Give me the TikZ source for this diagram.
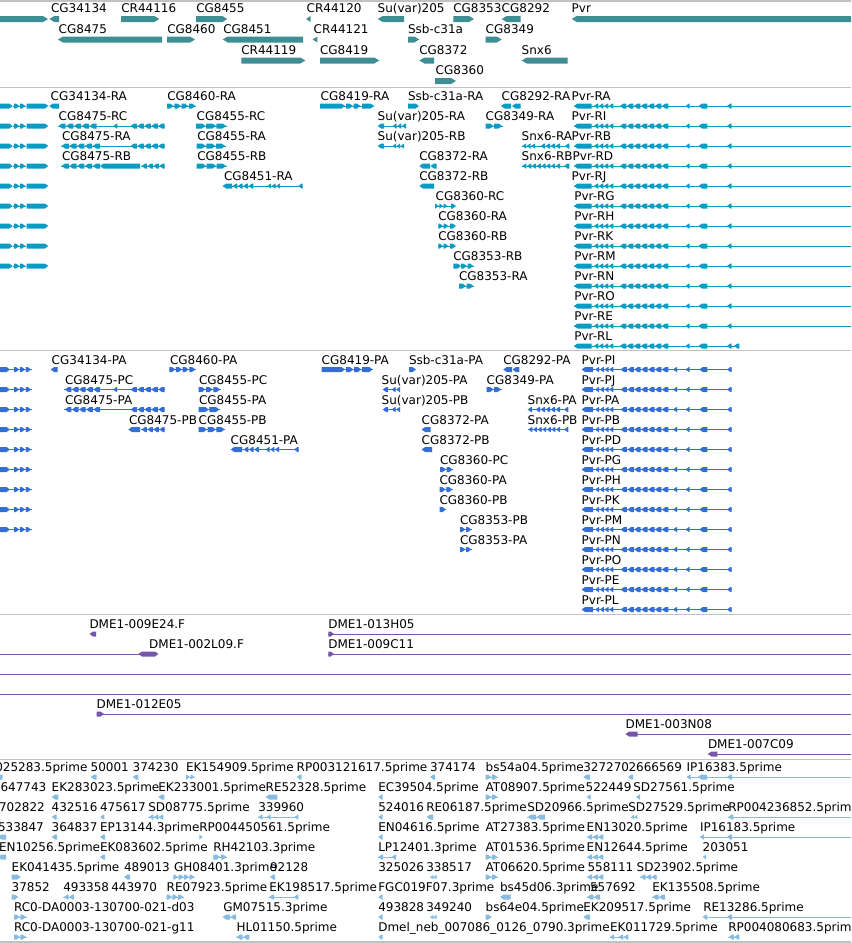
\documentclass[tikz,border=0pt]{standalone}
\usepackage{fontspec}
\setmainfont{DejaVu Sans}
\definecolor{gcol}{HTML}{3F8E94}
\definecolor{tcol}{HTML}{0A9CC4}
\definecolor{pcol}{HTML}{356FD3}
\definecolor{ccol}{HTML}{7656AA}
\definecolor{ecol}{HTML}{88BBE0}
\definecolor{sepcol}{HTML}{C2C2C2}
\newcounter{lbc}
\tikzset{
  lbl/.style={anchor=base west, inner sep=0pt, outer sep=0pt, font=\fontsize{9}{11}\selectfont, text=black},
  lble/.style={lbl, anchor=base east},
  sepline/.style={draw=sepcol, line width=0.9pt},
  intr/.style={draw=cur, line width=0.75pt}
}
\newcommand\lab[3]{\stepcounter{lbc}\node[lbl] (t\arabic{lbc}) at (#1,#2-\bo) {#3};}
\newcommand\labe[3]{\stepcounter{lbc}\node[lble] (t\arabic{lbc}) at (#1,#2-\bo) {#3};}
\newcommand\gR[3]{\pgfmathsetmacro\gtx{max(#1,#2-\tl)}\fill[cur] (#1,#3-\hh) -- (\gtx,#3-\hh) -- (#2,#3) -- (\gtx,#3+\hh) -- (#1,#3+\hh) -- cycle;}
\newcommand\gL[3]{\pgfmathsetmacro\gtx{min(#2,#1+\tl)}\fill[cur] (#2,#3-\hh) -- (\gtx,#3-\hh) -- (#1,#3) -- (\gtx,#3+\hh) -- (#2,#3+\hh) -- cycle;}
\newcommand\gI[3]{\draw[intr] (#1,#3) -- (#2,#3);}
\newcommand\gRR[4]{\gI{#1}{#2}{#4}\pgfmathsetmacro\gw{(#2-#1)/#3}\foreach \k in {1,...,#3}{\pgfmathsetmacro\ga{#1+(\k-1)*\gw}\pgfmathsetmacro\gb{\ga+\gw-0.6}\gR{\ga}{\gb}{#4}}}
\newcommand\gLL[4]{\gI{#1}{#2}{#4}\pgfmathsetmacro\gw{(#2-#1)/#3}\foreach \k in {1,...,#3}{\pgfmathsetmacro\ga{#1+(\k-1)*\gw+0.6}\pgfmathsetmacro\gb{#1+\k*\gw}\gL{\ga}{\gb}{#4}}}
\newcommand\pvrT[3]{\gI{#3}{#2}{#1}\gL{#3}{591.7}{#1}\gLL{593.3}{613.3}{4}{#1}\gLL{619.3}{668.3}{7}{#1}\gL{685.5}{689.5}{#1}\gL{698.5}{707.3}{#1}\gL{727}{731.7}{#1}}
\newcommand\pvrP[1]{\gI{581.7}{731.7}{#1}\gL{581.7}{593}{#1}\gLL{594.5}{613.3}{4}{#1}\gLL{620}{668.3}{7}{#1}\gL{673}{677}{#1}\gL{685.5}{689.5}{#1}\gL{699.3}{707.3}{#1}\gL{727}{731.7}{#1}}
\begin{document}
\begin{tikzpicture}[x=0.75pt,y=-0.75pt]
\useasboundingbox (0,0) rectangle (851,943);
\fill[white] (0,0) rectangle (851,943);
\clip (0,0) rectangle (851,943);
\foreach \yy in {1,87.5,350.5,614.5,759.5,942}{\draw[sepline] (0,\yy) -- (851,\yy);}
% ---------------- genes
\colorlet{cur}{gcol}\def\hh{3}\def\tl{5}\def\bo{6.5}
\gR{-2}{48}{19}
\gL{49.3}{59}{19}\lab{51}{19}{CG34134}
\gR{121}{159.3}{19}\lab{121.3}{19}{CR44116}
\gR{196}{227.3}{19}\lab{196.3}{19}{CG8455}
\gL{306}{310.7}{19}\lab{306.7}{19}{CR44120}
\gL{377.7}{404}{19}\lab{377.7}{19}{Su(var)205}
\gR{453.3}{474}{19}\lab{453.3}{19}{CG8353}
\gL{501.7}{520.7}{19}\lab{501.7}{19}{CG8292}
\gL{571.7}{855}{19}\lab{571.7}{19}{Pvr}
\gL{58}{162}{39.5}\lab{58.7}{39.5}{CG8475}
\gR{167}{195}{39.5}\lab{167.3}{39.5}{CG8460}
\gL{222.7}{303}{39.5}\lab{223.3}{39.5}{CG8451}
\gL{312.7}{317.3}{39.5}\lab{313.7}{39.5}{CR44121}
\gR{408}{419.3}{39.5}\lab{408}{39.5}{Ssb-c31a}
\gR{485.7}{501.7}{39.5}\lab{485.7}{39.5}{CG8349}
\gR{241.3}{305.3}{60.5}\lab{241.3}{60.5}{CR44119}
\gR{320}{379.3}{60.5}\lab{320}{60.5}{CG8419}
\gL{419.3}{434}{60.5}\lab{419.3}{60.5}{CG8372}
\gL{521.7}{567.7}{60.5}\lab{521.7}{60.5}{Snx6}
\gR{435}{456}{81}\lab{435.7}{81}{CG8360}
% ---------------- transcripts
\colorlet{cur}{tcol}\def\hh{2.5}\def\tl{3.5}\def\bo{5.2}
\foreach \yy in {106,126,...,266}{\gR{-2}{12.7}{\yy}\gI{12.7}{14}{\yy}\gRR{14}{26}{2}{\yy}\gR{26.7}{48.3}{\yy}}
\gL{49.3}{59}{106}\lab{50.7}{106}{CG34134-RA}
\gRR{167}{196}{4}{106}\lab{167.3}{106}{CG8460-RA}
\gI{320}{374}{106}\gR{320}{345}{106}\gRR{346}{361}{2}{106}\gR{362}{374}{106}\lab{320.7}{106}{CG8419-RA}
\gR{408}{419}{106}\lab{408}{106}{Ssb-c31a-RA}
\gL{501}{511}{106}\gL{512}{520.7}{106}\lab{501.7}{106}{CG8292-RA}
\gLL{58}{96.7}{5}{126}\gI{96.7}{130}{126}\gL{113.3}{117.3}{126}\gLL{130}{164.7}{5}{126}\lab{58.7}{126}{CG8475-RC}
\gRR{196}{226.7}{3}{126}\lab{196.7}{126}{CG8455-RC}
\gL{377.7}{384}{126}\gI{384}{392}{126}\gLL{392}{406}{3}{126}\lab{377.7}{126}{Su(var)205-RA}
\gRR{485.7}{502.7}{2}{126}\lab{485.7}{126}{CG8349-RA}
\gLL{61}{100}{5}{146}\gI{100}{130}{146}\gLL{130}{164.7}{5}{146}\lab{62}{146}{CG8475-RA}
\gRR{196.7}{225.7}{3}{146}\lab{197.3}{146}{CG8455-RA}
\gL{377.7}{384}{146}\gI{384}{392}{146}\gLL{392}{404}{3}{146}\lab{377.7}{146}{Su(var)205-RB}
\gI{521.7}{569.3}{146}\gLL{521.7}{535}{3}{146}\gLL{540}{560}{4}{146}\gL{565}{569.3}{146}\lab{521.7}{146}{Snx6-RA}
\gLL{61}{100}{5}{166}\gL{100}{140}{166}\gLL{141}{164.7}{4}{166}\lab{62}{166}{CG8475-RB}
\gRR{196.7}{226.7}{3}{166}\lab{197.3}{166}{CG8455-RB}
\gL{419.3}{430}{166}\gL{430.5}{436.7}{166}\lab{419.3}{166}{CG8372-RA}
\gI{521.7}{569.3}{166}\gLL{521.7}{560}{8}{166}\gL{564}{569.3}{166}\lab{521.7}{166}{Snx6-RB}
\gI{222.7}{302.7}{186}\gL{222.7}{232}{186}\gLL{232}{253.3}{4}{186}\gLL{266.7}{280}{3}{186}\gL{298.3}{302.7}{186}\lab{224}{186}{CG8451-RA}
\gL{419.3}{434}{186}\lab{419.3}{186}{CG8372-RB}
\gRR{435}{448}{3}{206}\gI{448}{451}{206}\gR{451}{456}{206}\lab{435.7}{206}{CG8360-RC}
\gRR{438.3}{449}{2}{226}\gI{449}{450}{226}\gR{450}{456}{226}\lab{438.3}{226}{CG8360-RA}
\gRR{438.3}{449}{2}{246}\gI{449}{450}{246}\gR{450}{456}{246}\lab{438.3}{246}{CG8360-RB}
\gR{453.3}{461}{266}\gRR{461}{474}{2}{266}\lab{453.3}{266}{CG8353-RB}
\gRR{459}{474}{2}{286}\lab{459}{286}{CG8353-RA}
\foreach \yy/\nm/\lx in {106/RA/571.7,126/RI/571.7,146/RB/571.7,166/RD/572.7,186/RJ/571.7,206/RG/574.3,226/RH/574.3,246/RK/574.3,266/RM/574.3,286/RN/574.3,306/RO/574.3,326/RE/574.3}{\lab{\lx}{\yy}{Pvr-\nm}\pvrT{\yy}{855}{574}}
\lab{574.3}{346}{Pvr-RL}\pvrT{346}{739.3}{574}\gL{734}{739.3}{346}
% ---------------- proteins
\colorlet{cur}{pcol}
\foreach \yy in {369.5,389.5,...,529.5}{\gR{-2}{10}{\yy}\gI{10}{14}{\yy}\gRR{14}{31.7}{3}{\yy}}
\gL{50.7}{57.7}{369.5}\lab{51.7}{369.5}{CG34134-PA}
\gRR{169.3}{196}{4}{369.5}\lab{170}{369.5}{CG8460-PA}
\gI{321.7}{372.7}{369.5}\gR{321.7}{345}{369.5}\gRR{346}{362}{2}{369.5}\gR{362}{372.7}{369.5}\lab{321.7}{369.5}{CG8419-PA}
\gR{409}{416}{369.5}\lab{409}{369.5}{Ssb-c31a-PA}
\gL{503.3}{512}{369.5}\gL{512.5}{519.3}{369.5}\lab{503.3}{369.5}{CG8292-PA}
\gLL{64.3}{100}{5}{389.5}\gI{100}{130}{389.5}\gL{113}{117}{389.5}\gLL{130}{164.7}{5}{389.5}\lab{65}{389.5}{CG8475-PC}
\gRR{198.7}{220.7}{3}{389.5}\lab{199}{389.5}{CG8455-PC}
\gL{382.7}{388}{389.5}\gI{388}{391}{389.5}\gLL{391}{400}{2}{389.5}\lab{381.7}{389.5}{Su(var)205-PA}
\gRR{486.7}{501.7}{2}{389.5}\lab{486.7}{389.5}{CG8349-PA}
\gLL{64.3}{100}{5}{409.5}\gI{100}{130}{409.5}\gLL{130}{164.7}{5}{409.5}\lab{65}{409.5}{CG8475-PA}
\gRR{198.7}{220}{2}{409.5}\lab{199}{409.5}{CG8455-PA}
\gL{382.7}{388}{409.5}\gI{388}{391}{409.5}\gLL{391}{400}{2}{409.5}\lab{381.7}{409.5}{Su(var)205-PB}
\gI{527.7}{568.3}{409.5}\gL{527.7}{532}{409.5}\gLL{535}{560}{5}{409.5}\gL{564}{568.3}{409.5}\lab{527.7}{409.5}{Snx6-PA}
\gL{128.3}{140}{429.5}\gLL{141}{164.7}{4}{429.5}\lab{129}{429.5}{CG8475-PB}
\gRR{198.7}{225.3}{3}{429.5}\lab{198.7}{429.5}{CG8455-PB}
\gL{421.7}{430.7}{429.5}\lab{421.7}{429.5}{CG8372-PA}
\gI{527.7}{568.3}{429.5}\gLL{527.7}{560}{7}{429.5}\gL{564}{568.3}{429.5}\lab{527.7}{429.5}{Snx6-PB}
\gI{230.7}{298.7}{449.5}\gL{230.7}{242}{449.5}\gLL{243}{259}{3}{449.5}\gLL{265}{279}{3}{449.5}\gL{294}{298.7}{449.5}\lab{230.7}{449.5}{CG8451-PA}
\gL{421.7}{432}{449.5}\lab{421.7}{449.5}{CG8372-PB}
\gRR{440}{453.3}{2}{469.5}\lab{440}{469.5}{CG8360-PC}
\gRR{439.5}{453}{2}{489.5}\lab{439.5}{489.5}{CG8360-PA}
\gR{439.5}{446}{509.5}\lab{439.5}{509.5}{CG8360-PB}
\gRR{460}{472}{2}{529.5}\lab{460}{529.5}{CG8353-PB}
\gRR{460}{472}{2}{549.5}\lab{460}{549.5}{CG8353-PA}
\foreach \yy/\nm in {369.5/PI,389.5/PJ,409.5/PA,429.5/PB,449.5/PD,469.5/PG,489.5/PH,509.5/PK,529.5/PM,549.5/PN,569.5/PO,589.5/PE,609.5/PL}{\lab{581.7}{\yy}{Pvr-\nm}\pvrP{\yy}}
% ---------------- clones
\colorlet{cur}{ccol}
\gL{89.5}{96}{634}\lab{89.5}{634}{DME1-009E24.F}
\gI{328.3}{855}{634}\gR{328.3}{334}{634}\lab{328.3}{634}{DME1-013H05}
\gI{-2}{140}{654}\fill[cur] (138.4,654) -- (142,651.5) -- (155,651.5) -- (158.4,654) -- (155,656.5) -- (142,656.5) -- cycle;\lab{149.2}{654}{DME1-002L09.F}
\gI{328.3}{855}{654}\gR{328.3}{334}{654}\lab{328.3}{654}{DME1-009C11}
\gI{-2}{855}{674}
\gI{-2}{855}{694}
\gI{96.6}{855}{714}\gR{96.6}{104}{714}\lab{96.6}{714}{DME1-012E05}
\gI{625.6}{855}{734}\gL{625.6}{637.5}{734}\lab{625.6}{734}{DME1-003N08}
\gI{708}{855}{754}\gL{708}{717.3}{754}\lab{708}{754}{DME1-007C09}
% ---------------- ESTs
\colorlet{cur}{ecol}
% row 777
\gL{-4}{2.7}{777}\labe{87.5}{777}{025283.5prime}
\gL{90.7}{96.7}{777}\lab{90.7}{777}{50001}
\gL{132.7}{138.3}{777}\lab{132.7}{777}{374230}
\gRR{186}{195}{2}{777}\lab{186}{777}{EK154909.5prime}
\gL{296.7}{301.7}{777}\lab{296.7}{777}{RP003121617.5prime}
\gL{430}{435}{777}\lab{430}{777}{374174}
\gRR{485.7}{498}{2}{777}\lab{485.7}{777}{bs54a04.5prime}
\gL{583.3}{590}{777}\lab{583.3}{777}{327270}
\gL{628}{633}{777}\lab{628.5}{777}{2666569}
\gI{686.7}{855}{777}\gL{686.7}{690.5}{777}\gL{698}{707}{777}\gL{727}{732}{777}\lab{686.7}{777}{IP16383.5prime}
% row 797
\lab{0.5}{797}{647743}
\gL{51.7}{58.3}{797}\lab{51.7}{797}{EK283023.5prime}
\gL{158.3}{164.3}{797}\lab{158.3}{797}{EK233001.5prime}
\gL{265.7}{277.3}{797}\lab{265.7}{797}{RE52328.5prime}
\gL{378.3}{382.7}{797}\lab{378.3}{797}{EC39504.5prime}
\gRR{485.7}{498}{2}{797}\lab{485.7}{797}{AT08907.5prime}
\gL{586.7}{590.7}{797}\lab{585.7}{797}{522449}
\gL{636}{640}{797}\lab{633.3}{797}{SD27561.5prime}
% row 817
\lab{-1}{817}{702822}
\gL{51.7}{56.7}{817}\lab{51.7}{817}{432516}
\gL{100}{104.3}{817}\lab{100}{817}{475617}
\gLL{148.3}{163.3}{3}{817}\lab{148.3}{817}{SD08775.5prime}
\gI{258.3}{298.3}{817}\gL{258.3}{262.3}{817}\gL{266.7}{270.7}{817}\gL{294.5}{298.3}{817}\lab{258.3}{817}{339960}
\gL{378.3}{382.7}{817}\lab{378.3}{817}{524016}
\gL{426.7}{433.3}{817}\lab{426.3}{817}{RE06187.5prime}
\gLL{527.3}{545}{2}{817}\lab{527.3}{817}{SD20966.5prime}
\gLL{630.7}{637.3}{2}{817}\lab{628.3}{817}{SD27529.5prime}
\gI{728.3}{855}{817}\gL{728.3}{733.3}{817}\lab{728.3}{817}{RP004236852.5prime}
% row 837
\gL{-2}{6}{837}\lab{-2}{837}{533847}
\gL{51.7}{57}{837}\lab{51.7}{837}{364837}
\gL{100}{105}{837}\lab{100}{837}{EP13144.3prime}
\gR{199.3}{202.7}{837}\lab{199.3}{837}{RP004450561.5prime}
\gL{378.3}{382.7}{837}\lab{378.3}{837}{EN04616.5prime}
\lab{485.7}{837}{AT27383.5prime}
\gLL{586.7}{603.3}{3}{837}\lab{586.7}{837}{EN13020.5prime}
\gI{700}{855}{837}\gL{700}{704}{837}\gL{727}{732}{837}\lab{700}{837}{IP16183.5prime}
% row 857
\gL{-2}{6}{857}\lab{-1}{857}{EN10256.5prime}
\gL{100}{105}{857}\lab{100}{857}{EK083602.5prime}
\gI{213.3}{226.7}{857}\gR{213.3}{220}{857}\gR{221}{226.7}{857}\lab{213.3}{857}{RH42103.3prime}
\gI{378.3}{396}{857}\gL{378.3}{383}{857}\gL{391.5}{396}{857}\lab{378.3}{857}{LP12401.3prime}
\gRR{485.7}{498}{2}{857}\lab{485.7}{857}{AT01536.5prime}
\gLL{586.7}{603.3}{3}{857}\lab{586.7}{857}{EN12644.5prime}
\gL{702.7}{706}{857}\lab{702.7}{857}{203051}
% row 877
\gR{11.7}{20.7}{877}\lab{11.7}{877}{EK041435.5prime}
\gL{124}{130}{877}\lab{124}{877}{489013}
\gRR{173.3}{195}{4}{877}\lab{174}{877}{GH08401.3prime}
\gL{270}{275}{877}\lab{270}{877}{92128}
\lab{378.3}{877}{325026}
\gLL{430}{436.7}{2}{877}\lab{426.3}{877}{338517}
\gRR{485.7}{498}{2}{877}\lab{485.7}{877}{AT06620.5prime}
\gLL{586.7}{603.3}{3}{877}\lab{587.5}{877}{558111}
\gLL{640}{656.7}{3}{877}\lab{636.7}{877}{SD23902.5prime}
% row 897
\gR{11.7}{18.3}{897}\lab{11.7}{897}{37852}
\gLL{63.3}{74}{2}{897}\lab{63.3}{897}{493358}
\lab{111.3}{897}{443970}
\gRR{166.7}{184}{3}{897}\lab{166.7}{897}{RE07923.5prime}
\gI{269.3}{298.3}{897}\gL{269.3}{274}{897}\gL{294}{298.3}{897}\lab{269.3}{897}{EK198517.5prime}
\gL{378.3}{382.7}{897}\lab{378.3}{897}{FGC019F07.3prime}
\gL{500}{510.7}{897}\lab{500}{897}{bs45d06.3prime}
\gLL{586.7}{600}{2}{897}\lab{590}{897}{557692}
\gLL{652}{665}{2}{897}\lab{652.3}{897}{EK135508.5prime}
% row 917
\gRR{14}{26.7}{2}{917}\lab{14}{917}{RC0-DA0003-130700-021-d03}
\gI{222.7}{236}{917}\gL{222.7}{230}{917}\gL{230.5}{236}{917}\lab{223.3}{917}{GM07515.3prime}
\gL{378.3}{382.7}{917}\lab{378.3}{917}{493828}
\gLL{430}{436.7}{2}{917}\lab{426.3}{917}{349240}
\gR{485.7}{491.7}{917}\lab{485.7}{917}{bs64e04.5prime}
\gL{583.3}{590}{917}\lab{583.3}{917}{EK209517.5prime}
\gI{702.7}{855}{917}\gL{702.7}{707}{917}\gL{727}{732}{917}\lab{703.3}{917}{RE13286.5prime}
% row 937
\gRR{14}{26.7}{2}{937}\lab{14}{937}{RC0-DA0003-130700-021-g11}
\gLL{236}{249.3}{2}{937}\lab{236.7}{937}{HL01150.5prime}
\gL{378.3}{382.7}{937}\lab{378.3}{937}{Dmel\_neb\_007086\_0126\_0790.3prime}
\gI{610}{628.3}{937}\gL{610}{614}{937}\gLL{618}{628.3}{2}{937}\lab{610}{937}{EK011729.5prime}
\gLL{728.3}{739.3}{2}{937}\lab{728.3}{937}{RP004080683.5prime}
\end{tikzpicture}
\end{document}
